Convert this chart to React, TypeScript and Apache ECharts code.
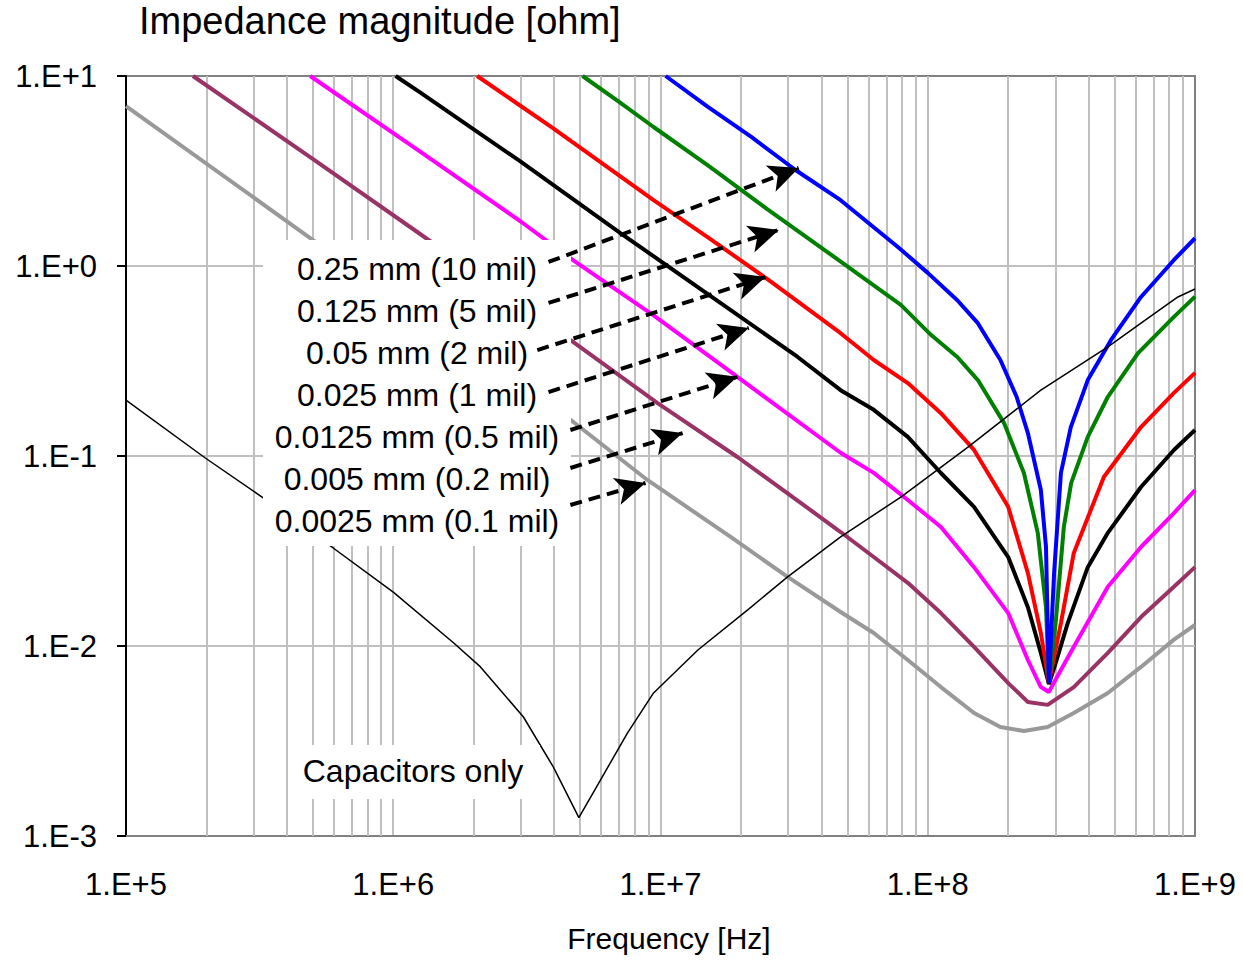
import React, { useEffect, useRef } from 'react';
import * as echarts from 'echarts';

const FONT = '"Liberation Sans", Arial, Helvetica, sans-serif';

// ---- data (frequency [Hz], impedance [ohm]) ----
const blueFreq = [1.045e7, 1.5e7, 2.2e7, 3.2e7, 4.72e7, 7.73e7, 1.0e8, 1.29e8, 1.54e8, 1.87e8, 2.15e8, 2.37e8, 2.65e8, 2.77e8, 2.84e8, 2.97e8, 3.15e8, 3.43e8, 3.97e8, 4.85e8, 6.28e8, 8.34e8, 1.0e9];
const blueZ = [10, 6.9, 4.75, 3.2, 2.22, 1.26, 0.92, 0.66, 0.5, 0.32, 0.205, 0.132, 0.0662, 0.0332, 0.0064, 0.0242, 0.0815, 0.142, 0.251, 0.408, 0.687, 1.076, 1.4];

const greenFreq = [5.11e6, 7e6, 9.42e6, 1.5e7, 2.5e7, 4.45e7, 7.93e7, 1.03e8, 1.29e8, 1.54e8, 1.93e8, 2.29e8, 2.58e8, 2.77e8, 2.84e8, 3.01e8, 3.23e8, 3.44e8, 3.97e8, 4.72e8, 6.12e8, 8.34e8, 1e9];
const greenZ = [10, 7.3, 5.39, 3.4, 2.0, 1.12, 0.624, 0.433, 0.332, 0.251, 0.149, 0.0814, 0.0394, 0.016, 0.0064, 0.0132, 0.0423, 0.072, 0.126, 0.205, 0.348, 0.54, 0.69];

const redFreq = [2.06e6, 3.97e6, 9.42e6, 1.5e7, 2.52e7, 4.72e7, 6.28e7, 8.42e7, 1.12e8, 1.49e8, 2.0e8, 2.37e8, 2.65e8, 2.84e8, 3.15e8, 3.52e8, 4.56e8, 6.28e8, 8.34e8, 1e9];
const redZ = [10, 5.3, 2.22, 1.42, 0.85, 0.443, 0.32, 0.242, 0.168, 0.1076, 0.054, 0.0242, 0.0117, 0.0064, 0.0132, 0.0309, 0.0775, 0.142, 0.215, 0.274];

const blackFreq = [1.02e6, 1.26e6, 2.99e6, 7.08e6, 1.68e7, 3.26e7, 4.72e7, 6.28e7, 8.42e7, 1.12e8, 1.49e8, 2.0e8, 2.37e8, 2.65e8, 2.84e8, 3.0e8, 3.34e8, 3.97e8, 4.72e8, 6.28e8, 8.34e8, 1e9];
const blackZ = [10, 8.2, 3.55, 1.49, 0.638, 0.332, 0.222, 0.175, 0.126, 0.0814, 0.054, 0.0294, 0.016, 0.0092, 0.0063, 0.008, 0.0132, 0.026, 0.0394, 0.0687, 0.1076, 0.137];

const magentaFreq = [4.89e5, 1.23e6, 2.99e6, 4.72e6, 9.42e6, 1.94e7, 4.72e7, 6.28e7, 8.42e7, 1.12e8, 1.49e8, 2.0e8, 2.37e8, 2.65e8, 2.84e8, 3.0e8, 3.52e8, 4.72e8, 6.28e8, 8.34e8, 1e9];
const magentaZ = [10, 4.1, 1.72, 1.07, 0.55, 0.261, 0.104, 0.0815, 0.0587, 0.0423, 0.026, 0.0149, 0.00844, 0.00608, 0.00573, 0.0066, 0.0099, 0.0205, 0.0332, 0.0501, 0.0662];

const purpleFreq = [1.78e5, 5.01e5, 1.23e6, 4.72e6, 9.75e6, 1.94e7, 3.56e7, 4.72e7, 6.28e7, 8.42e7, 1.12e8, 1.49e8, 2.0e8, 2.37e8, 2.81e8, 3.52e8, 4.72e8, 6.28e8, 8.34e8, 1e9];
const purpleZ = [10, 3.65, 1.51, 0.398, 0.19, 0.0988, 0.0532, 0.0398, 0.0294, 0.0215, 0.0149, 0.0099, 0.00638, 0.00507, 0.0049, 0.00608, 0.0092, 0.0142, 0.0205, 0.026];

const grayFreq = [1e5, 5.01e5, 1.5e6, 4.72e6, 8.93e6, 1.83e7, 2.99e7, 4.72e7, 6.28e7, 8.42e7, 1.12e8, 1.49e8, 1.87e8, 2.29e8, 2.81e8, 3.52e8, 4.72e8, 6.28e8, 8.34e8, 1e9];
const grayZ = [6.95, 1.37, 0.46, 0.151, 0.0748, 0.0375, 0.0231, 0.0151, 0.0117, 0.00844, 0.00608, 0.00444, 0.00375, 0.00357, 0.00375, 0.00444, 0.00566, 0.00776, 0.0108, 0.0129];

const capFreq = [1e5, 1.98e5, 3.23e5, 5.96e5, 1e6, 1.68e6, 2.12e6, 3.07e6, 3.97e6, 4.95e6, 5.96e6, 7.52e6, 9.42e6, 1.38e7, 2.12e7, 2.99e7, 4.72e7, 7.93e7, 1.41e8, 2.65e8, 4.72e8, 6.28e8, 8.63e8, 1e9];
const capZ = [0.197, 0.0976, 0.0608, 0.0328, 0.0192, 0.0104, 0.00776, 0.00423, 0.00231, 0.00125, 0.00197, 0.00348, 0.00566, 0.00953, 0.0155, 0.0231, 0.0375, 0.0608, 0.111, 0.222, 0.375, 0.501, 0.687, 0.757];

// label texts and arrow ends (data coordinates)
const thicknessLabels = ['0.25 mm (10 mil)', '0.125 mm (5 mil)', '0.05 mm (2 mil)', '0.025 mm (1 mil)', '0.0125 mm (0.5 mil)', '0.005 mm (0.2 mil)', '0.0025 mm (0.1 mil)'];
const arrowStartFreq = [3.81e6, 3.81e6, 3.46e6, 3.81e6, 4.6e6, 4.6e6, 4.6e6];
const arrowStartZ = [1.05, 0.639, 0.361, 0.217, 0.137, 0.0865, 0.0552];
const arrowEndFreq = [3.29e7, 2.77e7, 2.47e7, 2.14e7, 1.94e7, 1.21e7, 8.79e6];
const arrowEndZ = [3.28, 1.547, 0.875, 0.472, 0.261, 0.132, 0.0721];

const minorGridFreqs: number[] = [];
for (let k = 5; k <= 8; k++) for (let m = 2; m <= 9; m++) minorGridFreqs.push(m * Math.pow(10, k));

const pairs = (f: number[], z: number[]) => f.map((v, i) => [v, z[i]]);

const sciFmt = (v: number) => {
  const e = Math.round(Math.log10(v));
  return '1.E' + (e >= 0 ? '+' : '-') + Math.abs(e);
};

function buildOption() {
  const curve = (name: string, f: number[], z: number[], color: string, width = 4) => ({
    name,
    type: 'line',
    data: pairs(f, z),
    symbol: 'none',
    showSymbol: false,
    silent: true,
    z: 2,
    lineStyle: { color, width },
    itemStyle: { color },
    emphasis: { disabled: true },
  });

  const gray = curve(thicknessLabels[6], grayFreq, grayZ, '#999999') as any;
  gray.markLine = {
    silent: true,
    z: 1,
    symbol: ['none', 'none'],
    label: { show: false },
    emphasis: { disabled: true },
    lineStyle: { color: '#c0c0c0', width: 2, type: 'solid' },
    data: minorGridFreqs.map((f) => ({ xAxis: f })),
  };

  const cap = curve('Capacitors only', capFreq, capZ, '#000000', 1.5) as any;
  cap.markLine = {
    silent: true,
    z: 10,
    symbol: ['none', 'arrow'],
    symbolSize: [21, 30],
    label: { show: false },
    emphasis: { disabled: true },
    lineStyle: { color: '#000', width: 4, type: [12, 7], opacity: 1 },
    data: arrowStartFreq.map((f, i) => [
      { coord: [f, arrowStartZ[i]] },
      { coord: [arrowEndFreq[i], arrowEndZ[i]] },
    ]),
  };

  const labelText = (text: string, x: number, y: number, size = 32, align = 'center') => ({
    type: 'text',
    z: 6,
    silent: true,
    x,
    y,
    style: {
      text,
      fill: '#000',
      fontSize: size,
      fontFamily: FONT,
      align,
      verticalAlign: 'middle',
    },
  });

  return {
    animation: false,
    backgroundColor: '#ffffff',
    grid: {
      left: 126,
      right: 48,
      top: 76,
      bottom: 129,
      show: true,
      borderColor: '#808080',
      borderWidth: 2,
      backgroundColor: 'transparent',
    },
    xAxis: {
      type: 'log',
      logBase: 10,
      min: 1e5,
      max: 1e9,
      axisLine: { show: true, lineStyle: { color: '#808080', width: 2 } },
      axisTick: { show: false },
      axisLabel: { formatter: sciFmt, fontSize: 31, fontFamily: FONT, color: '#000', margin: 33 },
      splitLine: { show: true, showMinLine: false, showMaxLine: false, lineStyle: { color: '#c0c0c0', width: 2 } },
    },
    yAxis: {
      type: 'log',
      logBase: 10,
      min: 1e-3,
      max: 10,
      axisLine: { show: true, onZero: false, lineStyle: { color: '#000', width: 2 } },
      axisTick: { show: true, length: 9, lineStyle: { color: '#000', width: 2 } },
      axisLabel: { formatter: sciFmt, fontSize: 31, fontFamily: FONT, color: '#000', margin: 29 },
      splitLine: { show: true, showMinLine: false, showMaxLine: false, lineStyle: { color: '#c0c0c0', width: 2 } },
    },
    series: [
      gray,
      curve(thicknessLabels[5], purpleFreq, purpleZ, '#993366'),
      curve(thicknessLabels[4], magentaFreq, magentaZ, '#ff00ff'),
      curve(thicknessLabels[3], blackFreq, blackZ, '#000000'),
      curve(thicknessLabels[2], redFreq, redZ, '#ff0000'),
      curve(thicknessLabels[1], greenFreq, greenZ, '#008000'),
      curve(thicknessLabels[0], blueFreq, blueZ, '#0000ff'),
      cap,
    ],
    graphic: [
      labelText('Impedance magnitude [ohm]', 139, 21, 38, 'left'),
      labelText('Frequency [Hz]', 669, 938, 30),
      {
        type: 'rect',
        z: 4,
        silent: true,
        shape: { x: 263, y: 240, width: 308, height: 306 },
        style: { fill: '#ffffff' },
      },
      ...thicknessLabels.map((t, i) => labelText(t, 417, 268.5 + 42.1 * i)),
      {
        type: 'rect',
        z: 4,
        silent: true,
        shape: { x: 290, y: 745, width: 250, height: 54 },
        style: { fill: '#ffffff' },
      },
      labelText('Capacitors only', 413, 771),
    ],
  };
}

export default function App() {
  const ref = useRef<HTMLDivElement>(null);
  useEffect(() => {
    if (!ref.current) return;
    const chart = echarts.init(ref.current, undefined, { renderer: 'svg' });
    chart.setOption(buildOption() as any);
    return () => chart.dispose();
  }, []);
  return (
    <div
      ref={ref}
      style={{ position: 'absolute', left: 0, top: 0, width: 1243, height: 965, background: '#fff' }}
    />
  );
}
